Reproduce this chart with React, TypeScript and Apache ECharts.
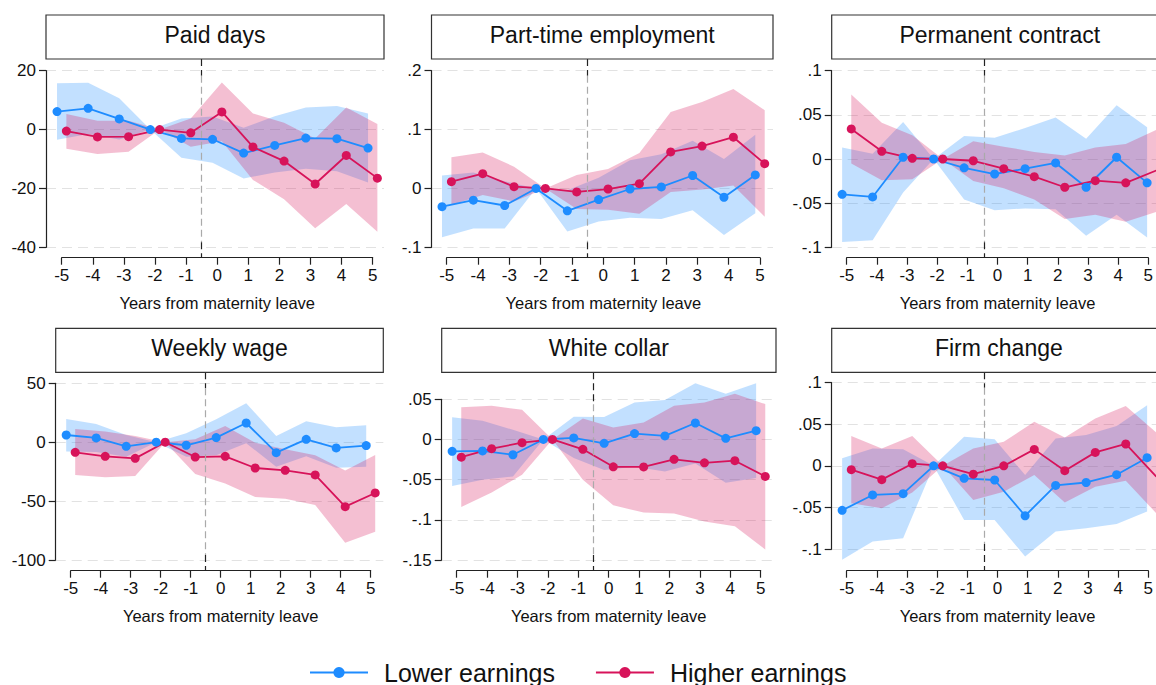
import React, { useEffect, useRef } from 'react';
import * as echarts from 'echarts';

const YEARS = [-5, -4, -3, -2, -1, 0, 1, 2, 3, 4, 5];
const SERIES_NAMES = ['Lower earnings', 'Higher earnings'];
const X_AXIS_NAME = 'Years from maternity leave';

// Paid days
const paidLow = [6.1, 7.2, 3.6, 0, -3.0, -3.3, -8.0, -5.4, -2.9, -3.1, -6.3];
const paidLowLo = [-3.5, -1.5, -3.4, 0, -9.6, -11.3, -16.6, -14.6, -13.3, -14.2, -18.0];
const paidLowHi = [15.7, 15.9, 10.6, 0, 3.8, 4.4, 0.6, 4.5, 7.5, 8.0, 5.5];
const paidHigh = [-0.5, -2.5, -2.4, 0, -1.1, 6.0, -5.9, -10.7, -18.5, -8.8, -16.5];
const paidHighLo = [-6.5, -8.3, -7.5, 0, -5.8, -4.0, -17.1, -23.7, -33.5, -25.3, -34.7];
const paidHighHi = [5.3, 3.0, 3.0, 0, 3.8, 16.0, 5.5, 2.3, -3.0, 7.5, 1.9];

// Part-time employment
const ptLow = [-0.031, -0.02, -0.029, 0, -0.038, -0.019, -0.001, 0.0025, 0.022, -0.015, 0.023];
const ptLowLo = [-0.083, -0.068, -0.068, 0, -0.073, -0.056, -0.05, -0.052, -0.037, -0.079, -0.042];
const ptLowHi = [0.022, 0.027, 0.012, 0, -0.003, 0.018, 0.048, 0.058, 0.081, 0.05, 0.091];
const ptHigh = [0.0115, 0.025, 0.003, 0, -0.006, -0.001, 0.008, 0.062, 0.072, 0.087, 0.042];
const ptHighLo = [-0.028, -0.011, -0.022, 0, -0.035, -0.036, -0.043, -0.006, -0.002, 0.005, -0.048];
const ptHighHi = [0.053, 0.061, 0.037, 0, 0.023, 0.033, 0.06, 0.13, 0.147, 0.169, 0.133];

// Permanent contract
const pcLow = [-0.04, -0.043, 0.002, 0, -0.01, -0.017, -0.011, -0.0045, -0.032, 0.002, -0.027];
const pcLowLo = [-0.094, -0.092, -0.038, 0, -0.046, -0.058, -0.056, -0.057, -0.087, -0.063, -0.089];
const pcLowHi = [0.013, 0.006, 0.042, 0, 0.026, 0.024, 0.035, 0.047, 0.023, 0.061, 0.036];
const pcHigh = [0.034, 0.0087, 0.0008, 0, -0.002, -0.011, -0.02, -0.032, -0.0245, -0.027, -0.013];
const pcHighLo = [-0.005, -0.024, -0.023, 0, -0.025, -0.033, -0.046, -0.068, -0.063, -0.071, -0.06];
const pcHighHi = [0.073, 0.041, 0.027, 0, 0.02, 0.014, 0.008, 0.004, 0.013, 0.017, 0.033];

// Weekly wage
const wwLow = [6.1, 3.6, -3.5, 0, -2.6, 3.9, 16.3, -8.9, 2.4, -4.9, -2.9];
const wwLowLo = [-8, -8.4, -12.3, 0, -12.3, -11, -0.9, -20.8, -12, -21.6, -20.8];
const wwLowHi = [19.7, 15.5, 6.1, 0, 7.5, 19.4, 33, 5.3, 17.7, 12.6, 14.3];
const wwHigh = [-8.6, -12, -13.7, 0, -12.6, -12, -21.9, -23.9, -27.8, -54.7, -43.1];
const wwHighLo = [-27.8, -29.8, -28.7, 0, -27, -35, -46.5, -48, -53.3, -85.3, -76];
const wwHighHi = [11.2, 9, 5.3, 0, 2.5, 13.8, -0.5, -6, -11, -24, -10.8];

// White collar
const wcLow = [-0.0147, -0.0143, -0.019, 0, 0.0019, -0.0048, 0.0073, 0.0044, 0.0205, 0.0014, 0.011];
const wcLowLo = [-0.058, -0.05, -0.046, 0, -0.023, -0.038, -0.034, -0.04, -0.03, -0.054, -0.048];
const wcLowHi = [0.0276, 0.0234, 0.012, 0, 0.0284, 0.028, 0.046, 0.049, 0.07, 0.057, 0.07];
const wcHigh = [-0.022, -0.0114, -0.004, 0, -0.0122, -0.034, -0.0342, -0.0247, -0.029, -0.0264, -0.046];
const wcHighLo = [-0.084, -0.066, -0.044, 0, -0.05, -0.082, -0.091, -0.092, -0.102, -0.108, -0.137];
const wcHighHi = [0.04, 0.042, 0.037, 0, 0.026, 0.015, 0.021, 0.042, 0.046, 0.057, 0.044];

// Firm change
const fcLow = [-0.0535, -0.035, -0.0335, 0, -0.015, -0.017, -0.06, -0.0235, -0.02, -0.0106, 0.0098];
const fcLowLo = [-0.113, -0.091, -0.087, 0, -0.065, -0.065, -0.109, -0.079, -0.075, -0.07, -0.055];
const fcLowHi = [0.009, 0.021, 0.02, 0, 0.035, 0.032, -0.011, 0.033, 0.037, 0.048, 0.073];
const fcHigh = [-0.0046, -0.0166, 0.0026, 0, -0.01, 0, 0.0198, -0.0058, 0.0162, 0.0263, -0.013];
const fcHighLo = [-0.045, -0.051, -0.032, 0, -0.041, -0.031, -0.011, -0.044, -0.025, -0.018, -0.057];
const fcHighHi = [0.036, 0.021, 0.036, 0, 0.021, 0.029, 0.053, 0.034, 0.057, 0.072, 0.04];

const TITLES = ['Paid days', 'Part-time employment', 'Permanent contract', 'Weekly wage', 'White collar', 'Firm change'];
const Y_MIN = [-40, -0.1, -0.1, -100, -0.15, -0.1];
const Y_MAX = [20, 0.2, 0.1, 50, 0.05, 0.1];
const Y_STEP = [20, 0.1, 0.05, 50, 0.05, 0.05];

const PANEL_DATA = [
  [paidLow, paidLowLo, paidLowHi, paidHigh, paidHighLo, paidHighHi],
  [ptLow, ptLowLo, ptLowHi, ptHigh, ptHighLo, ptHighHi],
  [pcLow, pcLowLo, pcLowHi, pcHigh, pcHighLo, pcHighHi],
  [wwLow, wwLowLo, wwLowHi, wwHigh, wwHighLo, wwHighHi],
  [wcLow, wcLowLo, wcLowHi, wcHigh, wcHighLo, wcHighHi],
  [fcLow, fcLowLo, fcLowHi, fcHigh, fcHighLo, fcHighHi],
];

const CANVAS_W = 1156;
const CANVAS_H = 685;

// Layout (pixels): title box [l, t, r, b], x-axis line y, y-tick top/bottom px, x-tick -5/5 px
const LAYOUT = [
  { box: [46, 15, 384, 59], axisY: 257.7, yTop: 70.7, yBot: 247.3, xL: 61.7, xR: 372.7 },
  { box: [431.5, 15, 773, 59], axisY: 257.7, yTop: 70.7, yBot: 247.3, xL: 446.7, xR: 760 },
  { box: [831.7, 15, 1168, 59], axisY: 257.7, yTop: 70.7, yBot: 247.3, xL: 846.7, xR: 1151.7 },
  { box: [55.7, 328.3, 383.3, 372.3], axisY: 570.7, yTop: 383.3, yBot: 560, xL: 70.7, xR: 370.7 },
  { box: [441.7, 328.3, 776, 372.3], axisY: 570.7, yTop: 399.3, yBot: 560, xL: 456.7, xR: 760.7 },
  { box: [831.7, 328.3, 1166, 372.3], axisY: 570.7, yTop: 382.7, yBot: 549, xL: 846.7, xR: 1151.7 },
];

const FONT = '"Liberation Sans", Arial, Helvetica, sans-serif';
const BLUE = '#1E8CFF';
const RED = '#D7135A';
const BLUE_BAND = 'rgba(30,140,255,0.27)';
const RED_BAND = 'rgba(215,19,90,0.27)';
const AXIS_COLOR = '#222';
const OFFSET = 0.15;

const fmt = (v: number) => {
  const r = Math.round(v * 1e6) / 1e6;
  if (r === 0) return '0';
  return String(r).replace(/^(-?)0\./, '$1.');
};

function makeBand(xs: number[], lo: number[], hi: number[], fill: string) {
  return (params: any, api: any) => {
    if (params.dataIndex !== 0) return null;
    const up = xs.map((x, j) => api.coord([x, hi[j]]));
    const dn = xs.map((x, j) => api.coord([x, lo[j]])).reverse();
    return { type: 'polygon', shape: { points: up.concat(dn) }, style: { fill } };
  };
}

function buildOption() {
  const grid: any[] = [];
  const xAxis: any[] = [];
  const yAxis: any[] = [];
  const series: any[] = [];
  const graphic: any[] = [];

  LAYOUT.forEach((L, i) => {
    const [bl, bt, br, bb] = L.box;
    const pr = Math.min(br, CANVAS_W);
    const yMin = Y_MIN[i], yMax = Y_MAX[i];
    const ppuX = (L.xR - L.xL) / 10;
    const xMinExt = -5 - (L.xL - bl) / ppuX;
    const xMaxExt = 5 + (pr - L.xR) / ppuX;
    const ppuY = (L.yBot - L.yTop) / (yMax - yMin);
    const yMaxExt = yMax + (L.yTop - bb) / ppuY;
    const yMinExt = yMin - (L.axisY - L.yBot) / ppuY;
    const g = i * 3;

    grid.push({ left: bl, top: bb, width: pr - bl, height: L.axisY - bb });
    grid.push({ left: bl, top: L.yTop, width: pr - bl, height: L.yBot - L.yTop });
    grid.push({ left: L.xL, top: L.axisY - 10, width: L.xR - L.xL, height: 10 });

    xAxis.push({ gridIndex: g, type: 'value', min: xMinExt, max: xMaxExt, show: false });
    xAxis.push({ gridIndex: g + 1, type: 'value', min: 0, max: 1, show: false });
    xAxis.push({
      gridIndex: g + 2, type: 'value', min: -5, max: 5, interval: 1, position: 'bottom',
      axisLine: { show: true, lineStyle: { color: AXIS_COLOR, width: 1.2 } },
      axisTick: { show: true, length: 7, inside: false, lineStyle: { color: AXIS_COLOR, width: 1.2 } },
      axisLabel: { fontSize: 17, color: '#111', margin: 9, fontFamily: FONT, showMinLabel: true, showMaxLabel: true },
      splitLine: { show: false },
      name: X_AXIS_NAME, nameLocation: 'middle', nameGap: 37,
      nameTextStyle: { fontSize: 16.5, color: '#111', fontFamily: FONT },
    });

    yAxis.push({ gridIndex: g, type: 'value', min: yMinExt, max: yMaxExt, show: false });
    yAxis.push({
      gridIndex: g + 1, type: 'value', min: yMin, max: yMax, interval: Y_STEP[i],
      axisLine: { show: true, lineStyle: { color: AXIS_COLOR, width: 1.2 } },
      axisTick: { show: true, length: 7, inside: false, lineStyle: { color: AXIS_COLOR, width: 1.2 } },
      axisLabel: { fontSize: 17, color: '#111', margin: 10, fontFamily: FONT, formatter: fmt, showMinLabel: true, showMaxLabel: true },
      splitLine: { show: true, lineStyle: { color: '#e2e2e2', type: [10, 6], width: 1.2 } },
    });
    yAxis.push({ gridIndex: g + 2, type: 'value', min: 0, max: 1, show: false });

    const [low, lowLo, lowHi, high, highLo, highHi] = PANEL_DATA[i];
    const xsB = YEARS.map((x) => x - OFFSET);
    const xsR = YEARS.map((x) => x + OFFSET);
    const topVal = yMax - 5 / ppuY;
    const botVal = yMin + 5 / ppuY;

    series.push({
      type: 'custom', name: 'ci-low', xAxisIndex: g, yAxisIndex: g, silent: true,
      data: YEARS.map((x, j) => [xsB[j], lowLo[j], lowHi[j]]),
      encode: { x: 0, y: [1, 2] },
      renderItem: makeBand(xsB, lowLo, lowHi, BLUE_BAND),
      markLine: {
        silent: true, symbol: ['none', 'none'], label: { show: false },
        data: [
          [{ coord: [-0.5, yMaxExt], lineStyle: { color: '#222', type: [7, 4], width: 1.2 } }, { coord: [-0.5, topVal] }],
          [{ coord: [-0.5, topVal], lineStyle: { color: '#aaa', type: [7, 4], width: 1.2 } }, { coord: [-0.5, botVal] }],
          [{ coord: [-0.5, botVal], lineStyle: { color: '#222', type: [7, 4], width: 1.2 } }, { coord: [-0.5, yMinExt] }],
        ],
      },
    });
    series.push({
      type: 'line', name: SERIES_NAMES[0], xAxisIndex: g, yAxisIndex: g,
      data: YEARS.map((x, j) => [xsB[j], low[j]]),
      symbol: 'circle', symbolSize: 9, showSymbol: true,
      itemStyle: { color: BLUE }, lineStyle: { color: BLUE, width: 1.8 },
    });
    series.push({
      type: 'custom', name: 'ci-high', xAxisIndex: g, yAxisIndex: g, silent: true,
      data: YEARS.map((x, j) => [xsR[j], highLo[j], highHi[j]]),
      encode: { x: 0, y: [1, 2] },
      renderItem: makeBand(xsR, highLo, highHi, RED_BAND),
    });
    series.push({
      type: 'line', name: SERIES_NAMES[1], xAxisIndex: g, yAxisIndex: g,
      data: YEARS.map((x, j) => [xsR[j], high[j]]),
      symbol: 'circle', symbolSize: 9, showSymbol: true,
      itemStyle: { color: RED }, lineStyle: { color: RED, width: 1.8 },
    });

    graphic.push({
      type: 'rect', z: 10,
      shape: { x: bl, y: bt, width: br - bl, height: bb - bt },
      style: { fill: '#fff', stroke: '#333', lineWidth: 1.2 },
    });
    graphic.push({
      type: 'text', z: 11, x: (bl + br) / 2, y: (bt + bb) / 2 - 2.5,
      style: { text: TITLES[i], fontSize: 23, fill: '#111', align: 'center', verticalAlign: 'middle', fontFamily: FONT },
    });
  });

  return {
    animation: false,
    backgroundColor: '#fff',
    grid, xAxis, yAxis, series, graphic,
    legend: {
      data: SERIES_NAMES,
      left: 304, top: 655,
      itemWidth: 58, itemHeight: 14, itemGap: 40,
      textStyle: { fontSize: 25, lineHeight: 25, color: '#111', fontFamily: FONT, padding: [0, 0, 0, 11] },
      selectedMode: false,
    },
  };
}

export default function App() {
  const ref = useRef<HTMLDivElement>(null);
  useEffect(() => {
    if (!ref.current) return;
    const chart = echarts.init(ref.current, undefined, { renderer: 'svg' });
    chart.setOption(buildOption() as any);
    return () => chart.dispose();
  }, []);
  return <div ref={ref} style={{ position: 'absolute', left: 0, top: 0, width: CANVAS_W, height: CANVAS_H }} />;
}
